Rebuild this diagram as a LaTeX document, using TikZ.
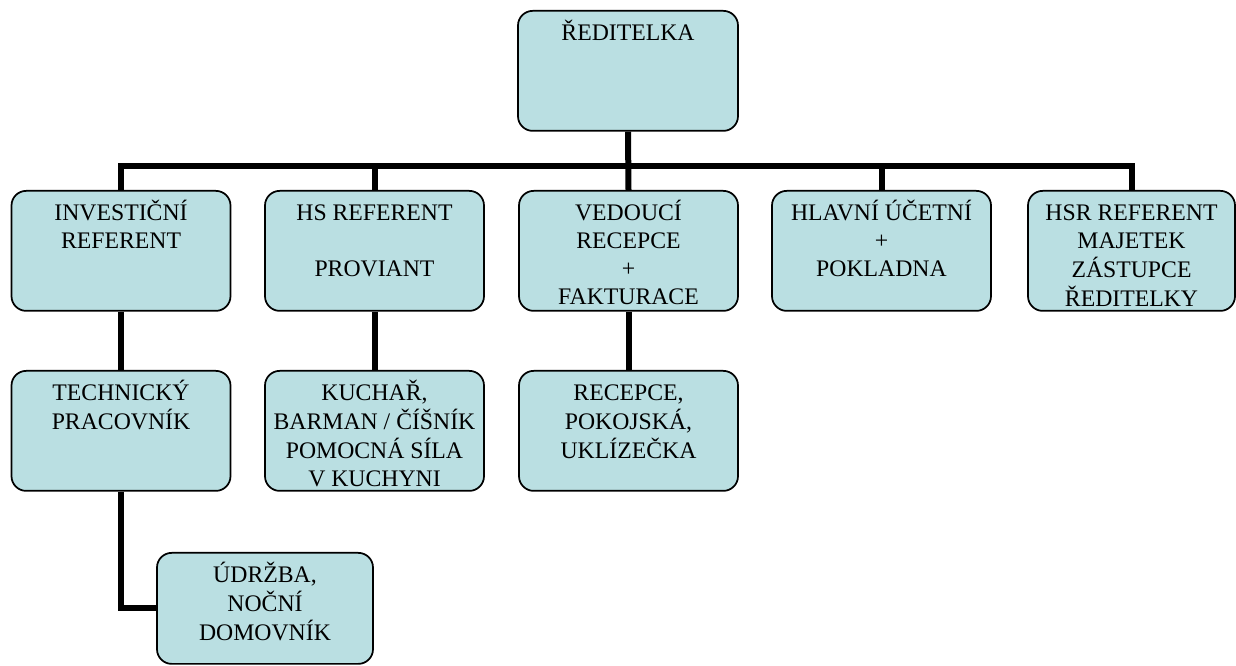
\documentclass[tikz,border=0pt]{standalone}
\usepackage{fontspec}
\setmainfont{Liberation Serif}
\usepackage{tikz}
\usetikzlibrary{positioning,calc,backgrounds}

\definecolor{boxfill}{RGB}{186,223,226}
% radky textu, ucarij je na prvnim radku
\newcommand{\lines}[1]{\begin{tabular}[t]{@{}c@{}}#1\end{tabular}}

\begin{document}
\begin{tikzpicture}[x=0.75pt, y=-0.75pt, thick,
	box/.style={draw=black, line width=1.3pt, fill=boxfill, rounded corners=11pt, anchor=north,
		minimum width=164.25pt, minimum height=90pt, inner xsep=2pt, inner ysep=10pt,
		text height=12.5pt, text depth=57.5pt, font=\fontsize{17.8}{21}\selectfont},
	conn/.style={draw=black, line width=4.5pt}]
	\useasboundingbox (0,0) rectangle (1236,666);

	\node (dir) at (628, 10) [box, minimum width=165pt] {\lines{ŘEDITELKA}};

	\node (invest) at (121, 190) [box] {\lines{INVESTIČNÍ\\REFERENT}};
	\node (hs) at (374.5, 190) [box] {\lines{HS REFERENT\\ \\PROVIANT}};
	\node (ved) at (628.5, 190) [box] {\lines{VEDOUCÍ\\RECEPCE\\+\\FAKTURACE}};
	\node (ucet) at (881.5, 190) [box] {\lines{HLAVNÍ ÚČETNÍ\\+\\POKLADNA}};
	\node (hsr) at (1131.5, 190) [box, minimum width=155.25pt] {\lines{HSR REFERENT\\MAJETEK\\ZÁSTUPCE\\ŘEDITELKY}};

	\node (tech) at (121, 370) [box] {\lines{TECHNICKÝ\\PRACOVNÍK}};
	\node (kuch) at (374.5, 370) [box] {\lines{KUCHAŘ,\\BARMAN / ČÍŠNÍK\\POMOCNÁ SÍLA\\V KUCHYNI}};
	\node (rec) at (628.5, 370) [box] {\lines{RECEPCE,\\POKOJSKÁ,\\UKLÍZEČKA}};

	\node (udrz) at (265, 552) [box, minimum width=162pt, minimum height=83.25pt, text depth=50.75pt] {\lines{ÚDRŽBA,\\NOČNÍ\\DOMOVNÍK}};

	% vodorovna sbernice
	\coordinate (bar) at (628, 166);
	\begin{scope}[on background layer]
		\draw[conn] (invest.north) |- (bar -| hsr.north) -- (hsr.north);
		\draw[conn] (dir.south) -- (ved.north);
		\draw[conn] (hs.north) -- (hs.north |- bar);
		\draw[conn] (ucet.north) -- (ucet.north |- bar);

		\draw[conn] (invest.south) -- (tech.north);
		\draw[conn] (hs.south) -- (kuch.north);
		\draw[conn] (ved.south) -- (rec.north);
		\draw[conn] (tech.south) |- (udrz.west);
	\end{scope}
\end{tikzpicture}
\end{document}
